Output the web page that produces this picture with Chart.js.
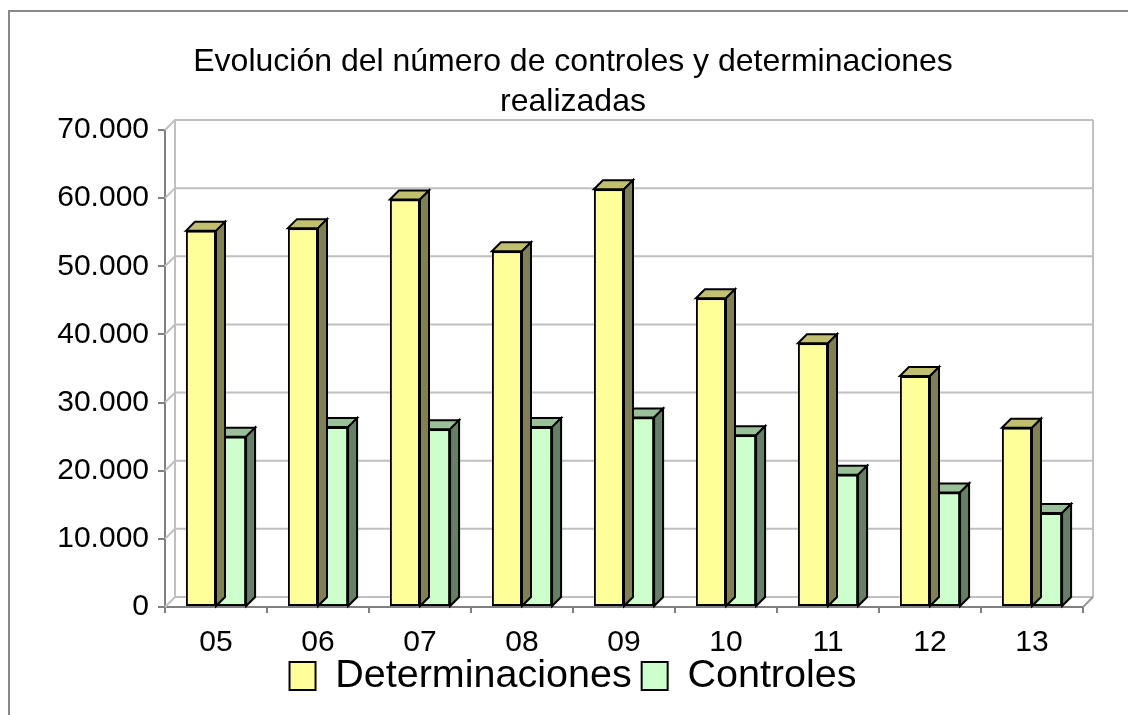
<!DOCTYPE html>
<html lang="es">
<head>
<meta charset="utf-8">
<title>Evolución del número de controles y determinaciones realizadas</title>
<script src="https://cdn.jsdelivr.net/npm/chart.js@4.4.1/dist/chart.umd.min.js"></script>
<style>
    html, body { margin: 0; padding: 0; background: #fff; }
    #wrap { position: relative; width: 1128px; height: 715px; }
</style>
</head>
<body>
<div id="wrap"><canvas id="evolucionChart"></canvas></div>
<script>
// --- Datos del gráfico ---
const categorias = ['05', '06', '07', '08', '09', '10', '11', '12', '13'];
const determinaciones = [55200, 55600, 59800, 52200, 61300, 45300, 38700, 33900, 26300];
const controles = [25000, 26400, 26100, 26400, 27800, 25200, 19400, 16800, 13800];
const yTicks = [0, 10000, 20000, 30000, 40000, 50000, 60000, 70000];
const yTickLabels = ['0', '10.000', '20.000', '30.000', '40.000', '50.000', '60.000', '70.000'];

const FONT = "'Liberation Sans', Arial, sans-serif";
const WALL_DEPTH = 10;   // profundidad de las paredes del fondo
const BAR_DEPTH = 9;     // profundidad de las barras 3D

Chart.defaults.font.family = FONT;
Chart.defaults.color = '#000';

// Marco gris exterior
const marcoPlugin = {
    id: 'marco',
    beforeDraw(chart) {
        const ctx = chart.ctx;
        ctx.save();
        ctx.fillStyle = '#fff';
        ctx.fillRect(0, 0, chart.width, chart.height);
        ctx.strokeStyle = '#888';
        ctx.lineWidth = 2;
        ctx.strokeRect(9, 11, chart.width + 20, chart.height + 20);
        ctx.restore();
    }
};

// Pared del fondo, pared lateral y suelo (efecto 3D)
const paredesPlugin = {
    id: 'paredes',
    beforeDatasetsDraw(chart) {
        const { ctx, chartArea: a, scales: { y } } = chart;
        const d = WALL_DEPTH;
        ctx.save();
        ctx.strokeStyle = '#c0c0c0';
        ctx.lineWidth = 2;
        ctx.beginPath();
        yTicks.forEach(v => {
            const py = y.getPixelForValue(v);
            ctx.moveTo(a.left, py);
            ctx.lineTo(a.left + d, py - d);
            ctx.lineTo(a.right + d, py - d);
        });
        // bordes verticales de la pared del fondo
        ctx.moveTo(a.left + d, a.top - d);
        ctx.lineTo(a.left + d, a.bottom - d);
        ctx.moveTo(a.right + d, a.top - d);
        ctx.lineTo(a.right + d, a.bottom - d);
        ctx.stroke();
        // diagonal derecha del suelo
        ctx.strokeStyle = '#999';
        ctx.beginPath();
        ctx.moveTo(a.right, a.bottom);
        ctx.lineTo(a.right + d, a.bottom - d);
        ctx.stroke();
        ctx.restore();
    },
    // caras superior y lateral de cada barra
    afterDatasetDraw(chart, args) {
        const ctx = chart.ctx;
        const ds = chart.data.datasets[args.index];
        const d = BAR_DEPTH;
        ctx.save();
        ctx.strokeStyle = '#000';
        ctx.lineWidth = 2;
        ctx.lineJoin = 'miter';
        args.meta.data.forEach(bar => {
            const { x, y, base, width } = bar.getProps(['x', 'y', 'base', 'width'], true);
            const x0 = x - width / 2;
            const x1 = x + width / 2;
            // cara superior
            ctx.beginPath();
            ctx.moveTo(x0, y);
            ctx.lineTo(x0 + d, y - d);
            ctx.lineTo(x1 + d, y - d);
            ctx.lineTo(x1, y);
            ctx.closePath();
            ctx.fillStyle = ds.topColor;
            ctx.fill();
            ctx.stroke();
            // cara lateral
            ctx.beginPath();
            ctx.moveTo(x1, y);
            ctx.lineTo(x1 + d, y - d);
            ctx.lineTo(x1 + d, base - d);
            ctx.lineTo(x1, base);
            ctx.closePath();
            ctx.fillStyle = ds.sideColor;
            ctx.fill();
            ctx.stroke();
        });
        ctx.restore();
    }
};

new Chart(document.getElementById('evolucionChart'), {
    type: 'bar',
    data: {
        labels: categorias,
        datasets: [
            {
                label: 'Determinaciones',
                data: determinaciones,
                backgroundColor: '#ffff99',
                topColor: '#c0c070',
                sideColor: '#808050',
                borderColor: '#000',
                borderWidth: 2,
                borderSkipped: false
            },
            {
                label: 'Controles',
                data: controles,
                backgroundColor: '#ccffcc',
                topColor: '#99c099',
                sideColor: '#668066',
                borderColor: '#000',
                borderWidth: 2,
                borderSkipped: false
            }
        ]
    },
    options: {
        responsive: true,
        maintainAspectRatio: false,
        animation: false,
        layout: { padding: { left: 18, right: 0, top: 0, bottom: 9.25 } },
        datasets: {
            bar: { categoryPercentage: 0.59, barPercentage: 1.0 }
        },
        plugins: {
            title: {
                display: true,
                text: ['Evolución del número de controles y determinaciones', 'realizadas'],
                color: '#000',
                font: { size: 32, weight: 'normal', lineHeight: 40 / 32 },
                padding: { top: 42, bottom: 8 }
            },
            legend: {
                position: 'bottom',
                labels: {
                    font: { size: 39.5 },
                    color: '#000',
                    boxWidth: 26,
                    boxHeight: 28,
                    padding: 10
                }
            },
            tooltip: { enabled: false }
        },
        scales: {
            x: {
                offset: true,
                grid: { display: true, offset: true, drawOnChartArea: false, drawTicks: true, tickLength: 6, color: '#808080', lineWidth: 2 },
                border: { display: true, color: '#808080', width: 2 },
                ticks: { font: { size: 30 }, color: '#000', padding: 12 },
                afterFit(scale) {
                    scale.height = 39.25;
                    // las etiquetas no se recortan al alto reducido del eje
                    scale._computeLabelArea = () => undefined;
                }
            },
            y: {
                min: 0,
                max: 70000,
                afterBuildTicks(scale) { scale.ticks = yTicks.map(v => ({ value: v })); },
                grid: { display: true, drawOnChartArea: false, drawTicks: true, tickLength: 7, color: '#808080', lineWidth: 2 },
                border: { display: true, color: '#808080', width: 2 },
                ticks: {
                    font: { size: 30 },
                    color: '#000',
                    padding: 9,
                    callback: (value, index) => yTickLabels[index]
                },
                afterFit(scale) { scale.width = 147; }
            },
            yRight: {
                type: 'linear',
                position: 'right',
                display: true,
                grid: { display: false },
                border: { display: false },
                ticks: { display: false },
                afterFit(scale) { scale.width = 45; }
            }
        }
    },
    plugins: [marcoPlugin, paredesPlugin]
});
</script>
</body>
</html>
